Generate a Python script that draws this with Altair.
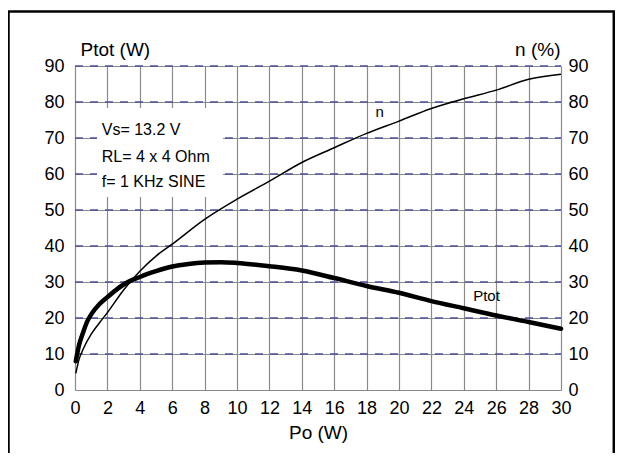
import altair as alt
import pandas as pd

# ---- data ----
po_ptot = [0.05, 0.25, 0.5, 0.75, 1, 1.5, 2, 3, 4, 5, 6, 7, 8, 9, 10, 12, 14, 16, 18, 20, 22, 24, 26, 28, 30]
ptot_w = [8, 12.5, 16, 19, 21, 23.8, 25.8, 29.3, 31.4, 33, 34.3, 35, 35.4, 35.5, 35.3, 34.4, 33.2, 31.1, 28.9, 27, 24.7, 22.7, 20.7, 18.9, 17]

po_eff = [0.05, 0.25, 0.5, 1, 1.5, 2, 3, 4, 5, 6, 8, 10, 12, 14, 16, 18, 20, 22, 24, 26, 28, 30]
eff_pct = [4.6, 8.5, 11.3, 15.5, 18.6, 21.5, 27.8, 33, 37.2, 40.5, 47.4, 53, 58, 63.2, 67.3, 71.3, 74.7, 78.2, 80.9, 83.3, 86.3, 87.7]

x_ticks = list(range(0, 31, 2))
y_ticks = list(range(0, 91, 10))
dash_rows = list(range(10, 91, 10))

note_text = ["Vs= 13.2 V", "RL= 4 x 4 Ohm", "f= 1 KHz SINE"]
note_x = [1.65, 1.65, 1.65]
note_y = [70.8, 63.4, 56.5]
note_box = {"x0": [1.36], "x1": [9.14], "y0": [53.6], "y1": [78.3]}

curve_label = ["n", "Ptot"]
curve_label_x = [18.8, 25.4]
curve_label_y = [75.8, 24.7]

# ---- styling ----
W, H = 486, 324
FONT = "Liberation Sans"
GRID = "#8a8a8a"
BLUE = "#4f4f9e"

xscale = alt.Scale(domain=[0, 30], nice=False, zero=False)
yscale = alt.Scale(domain=[0, 90], nice=False, zero=False)

x_axis = alt.Axis(
    values=x_ticks, grid=True, gridColor=GRID, gridWidth=1.2, domain=False, ticks=False,
    labelPadding=9, labelFontSize=18, labelAngle=0, labelFlush=False, labelOverlap=False,
    labelColor="black", labelFont=FONT,
    title="Po (W)", titleFont=FONT, titleFontSize=19, titleFontWeight="normal", titleColor="black",
    titleX=243, titleY=48, titleAlign="center", titleBaseline="alphabetic",
)
y_left = alt.Axis(
    values=y_ticks, grid=True, gridColor=GRID, gridWidth=1.2, domain=False, ticks=False,
    labelPadding=11, labelFontSize=18, labelFlush=False, labelOverlap=False,
    labelColor="black", labelFont=FONT,
    title="Ptot (W)", titleFont=FONT, titleFontSize=19, titleFontWeight="normal", titleColor="black",
    titleAngle=0, titleX=5, titleY=-11, titleAlign="left", titleBaseline="alphabetic",
)
y_right = alt.Axis(
    orient="right", values=y_ticks, grid=False, domain=False, ticks=False,
    labelPadding=7, labelFontSize=18, labelFlush=False, labelOverlap=False,
    labelColor="black", labelFont=FONT,
    title="n (%)", titleFont=FONT, titleFontSize=19, titleFontWeight="normal", titleColor="black",
    titleAngle=0, titleX=-1, titleY=-11, titleAlign="right", titleBaseline="alphabetic",
)

one = pd.DataFrame({"k": [0]})

dash = alt.Chart(pd.DataFrame({"y": dash_rows})).mark_rule(
    color=BLUE, strokeWidth=1.5, strokeDash=[8, 7]
).encode(
    y=alt.Y("y:Q", scale=yscale, axis=y_left),
    x=alt.value(0), x2=alt.value(W),
)

box = alt.Chart(pd.DataFrame(note_box)).mark_rect(fill="white", stroke=None).encode(
    x=alt.X("x0:Q", scale=xscale, axis=x_axis), x2="x1:Q",
    y=alt.Y("y0:Q", scale=yscale, axis=y_left), y2="y1:Q",
)

ptot_line = alt.Chart(pd.DataFrame({"po": po_ptot, "ptot": ptot_w})).mark_line(
    color="black", strokeWidth=4.5, interpolate="monotone", strokeCap="round"
).encode(
    x=alt.X("po:Q", scale=xscale, axis=x_axis),
    y=alt.Y("ptot:Q", scale=yscale, axis=y_left),
)

notes = alt.Chart(pd.DataFrame({"t": note_text, "x": note_x, "y": note_y})).mark_text(
    align="left", baseline="alphabetic", fontSize=16, font=FONT, color="black"
).encode(
    x=alt.X("x:Q", scale=xscale, axis=x_axis),
    y=alt.Y("y:Q", scale=yscale, axis=y_left),
    text="t:N",
)

labels = alt.Chart(pd.DataFrame({"t": curve_label, "x": curve_label_x, "y": curve_label_y})).mark_text(
    align="center", baseline="alphabetic", fontSize=15, font=FONT, color="black"
).encode(
    x=alt.X("x:Q", scale=xscale, axis=x_axis),
    y=alt.Y("y:Q", scale=yscale, axis=y_left),
    text="t:N",
)

# outer frame of the figure (decoration)
frame_left = alt.Chart(one).mark_rule(color="black", strokeWidth=2.5).encode(
    x=alt.value(-66.5), y=alt.value(-54.5), y2=alt.value(420)
)
frame_top = alt.Chart(one).mark_rule(color="black", strokeWidth=2.5).encode(
    x=alt.value(-67.7), x2=alt.value(540.5), y=alt.value(-54.5)
)
frame_right = alt.Chart(one).mark_rule(color="black", strokeWidth=2.5).encode(
    x=alt.value(538.8), y=alt.value(-54.5), y2=alt.value(420)
)

inner = alt.layer(dash, box, ptot_line, notes, labels, frame_left, frame_top, frame_right)

eff_line = alt.Chart(pd.DataFrame({"po": po_eff, "eff": eff_pct})).mark_line(
    color="black", strokeWidth=1.5, interpolate="monotone"
).encode(
    x=alt.X("po:Q", scale=xscale, axis=x_axis),
    y=alt.Y("eff:Q", scale=yscale, axis=y_right),
)

chart = alt.layer(inner, eff_line).resolve_scale(y="independent").properties(
    width=W, height=H,
    padding={"left": 67, "top": 58, "right": 54, "bottom": 63},
    autosize=alt.AutoSizeParams(type="none"),
    background="white",
).configure_view(stroke=None).configure(font=FONT)

chart.save("out.html", embed_options={"renderer": "svg", "actions": False})
